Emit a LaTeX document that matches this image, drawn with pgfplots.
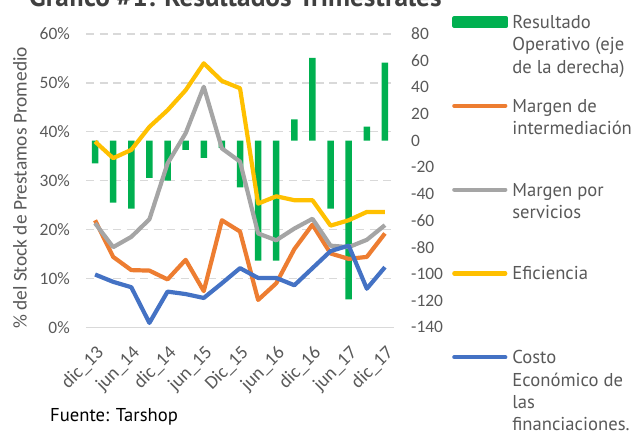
\documentclass[border=0pt]{standalone}
\usepackage{fontspec}
\setmainfont{PT Sans}
\newfontfamily\calib{Carlito}
\usepackage{pgfplots}
\pgfplotsset{compat=1.18}

\definecolor{cgreen}{HTML}{00B050}
\definecolor{corange}{HTML}{ED7D31}
\definecolor{cgray}{HTML}{A5A5A5}
\definecolor{cyellow}{HTML}{FFC000}
\definecolor{cblue}{HTML}{4472C4}
\definecolor{gridgray}{HTML}{D9D9D9}
\definecolor{txt}{HTML}{595959}

% quarters: dic_13 ... dic_17 plotted at 0..16
\pgfplotstableread{
x  res    mint  mserv  efic  costo
0  -17    21.9  21.3   38.0  10.8
1  -46.5  14.4  16.4   34.6   9.3
2  -51    11.7  18.5   36.3   8.2
3  -28    11.6  22.1   41.0   0.9
4  -30     9.8  33.5   44.4   7.3
5  -7     13.8  39.7   48.5   6.8
6  -13     7.4  49.2   54.0   6.0
7  -5.5   21.9  36.6   50.4   9.0
8  -35    19.6  33.9   48.9  12.1
9  -90     5.6  19.2   25.3  10.1
10 -90     9.0  17.8   26.8  10.1
11  16    16.0  20.2   26.0   8.6
12  62    21.0  22.2   26.0  12.1
13 -51    15.1  16.7   20.8  15.6
14 -119   14.0  16.4   21.9  16.7
15  10.5  14.4  17.9   23.6   7.9
16  58.5  19.2  20.9   23.6  12.3
}\datatable

\pgfplotsset{
  base/.style={
    scale only axis, width=308bp, height=293.3bp,
    at={(0,0)}, anchor=south west,
    xmin=-0.5, xmax=16.5,
    major tick length=0pt,
    /pgf/number format/assume math mode=true,
    ticklabel style={font=\calib\fontsize{17.5}{20}\selectfont, text=txt},
  },
}

\begin{document}
\begin{tikzpicture}
% bars, right axis, with the grid of the left axis
\begin{axis}[base,
  ymin=-140, ymax=80,
  hide x axis,
  axis y line*=right,
  y axis line style={draw=none},
  ytick={-140,-120,...,80},
  yticklabel style={anchor=west, inner sep=0pt, xshift=17bp},
  extra y ticks={80,43.333,6.667,-30,-66.667,-103.333},
  extra y tick labels={},
  extra y tick style={grid=major,
    major grid style={draw=gridgray, line width=1.3bp, dash pattern=on 8bp off 5.5bp}},
]
\addplot[ybar, bar width=6.5bp, fill=cgreen, draw=none] table[x=x, y=res] {\datatable};
\end{axis}
% lines, left axis
\begin{axis}[base,
  ymin=0, ymax=60,
  axis x line*=bottom,
  axis y line*=left,
  x axis line style={-, draw=gridgray, line width=1.5bp},
  y axis line style={draw=none},
  ytick={0,10,...,60},
  yticklabel={\pgfmathprintnumber{\tick}\%},
  yticklabel style={anchor=east, inner sep=0pt, xshift=-16bp},
  xtick={0,2,...,16},
  xticklabels={dic\_13,jun\_14,dic\_14,jun\_15,Dic\_15,jun\_16,dic\_16,jun\_17,dic\_17},
  xticklabel style={font=\calib\fontsize{19}{22}\selectfont,
    anchor=north east, inner sep=0pt, xshift=0bp, yshift=-17bp, rotate=45},
  ylabel={\% del Stock de Prestamos Promedio},
  ylabel style={at={(axis description cs:-0.2143,0.475)}, anchor=center,
    font=\calib\fontsize{19.5}{22}\selectfont, text=txt},
  every axis plot/.append style={line width=4.2bp, line join=round},
  legend image code/.code={\draw[#1, line cap=round] (0bp,33.4bp) -- (51bp,33.4bp);},
  legend cell align=left,
  legend style={at={(axis description cs:1,1)}, anchor=north west,
    xshift=58bp, yshift=20.7bp, draw=none, fill=none, inner sep=0pt,
    row sep=0pt, column sep=4bp,
    font=\fontsize{18.7}{22.4}\selectfont, text=txt,
    nodes={inner sep=0pt, text height=15bp, text depth=68.8bp}},
]
\addlegendimage{legend image code/.code={\fill[cgreen] (0bp,29.7bp) rectangle (52bp,37.1bp);}}
\addlegendentry{\begin{tabular}[t]{@{}l@{}}Resultado\\Operativo (eje\\de la derecha)\end{tabular}}
\addplot[corange] table[x=x, y=mint] {\datatable};
\addlegendentry{\begin{tabular}[t]{@{}l@{}}Margen de\\intermediación\end{tabular}}
\addplot[cgray] table[x=x, y=mserv] {\datatable};
\addlegendentry{\begin{tabular}[t]{@{}l@{}}Margen por\\servicios\end{tabular}}
\addplot[cyellow] table[x=x, y=efic] {\datatable};
\addlegendentry{Eficiencia}
\addplot[cblue] table[x=x, y=costo] {\datatable};
\addlegendentry{\begin{tabular}[t]{@{}l@{}}Costo\\Económico de\\las\\financiaciones.\end{tabular}}
\end{axis}
\node[anchor=base west, inner sep=0pt, font=\bfseries\fontsize{27.4}{30}\selectfont, text=black!75]
  at (-57bp,320.3bp) {Gráfico \#1: Resultados Trimestrales};
\node[anchor=base west, inner sep=0pt, font=\fontsize{18.7}{22}\selectfont]
  at (-36bp,-94.2bp) {Fuente: Tarshop};
\pgfresetboundingbox
\useasboundingbox (-86bp,-103.7bp) rectangle (553bp,327.3bp);
\end{tikzpicture}
\end{document}
